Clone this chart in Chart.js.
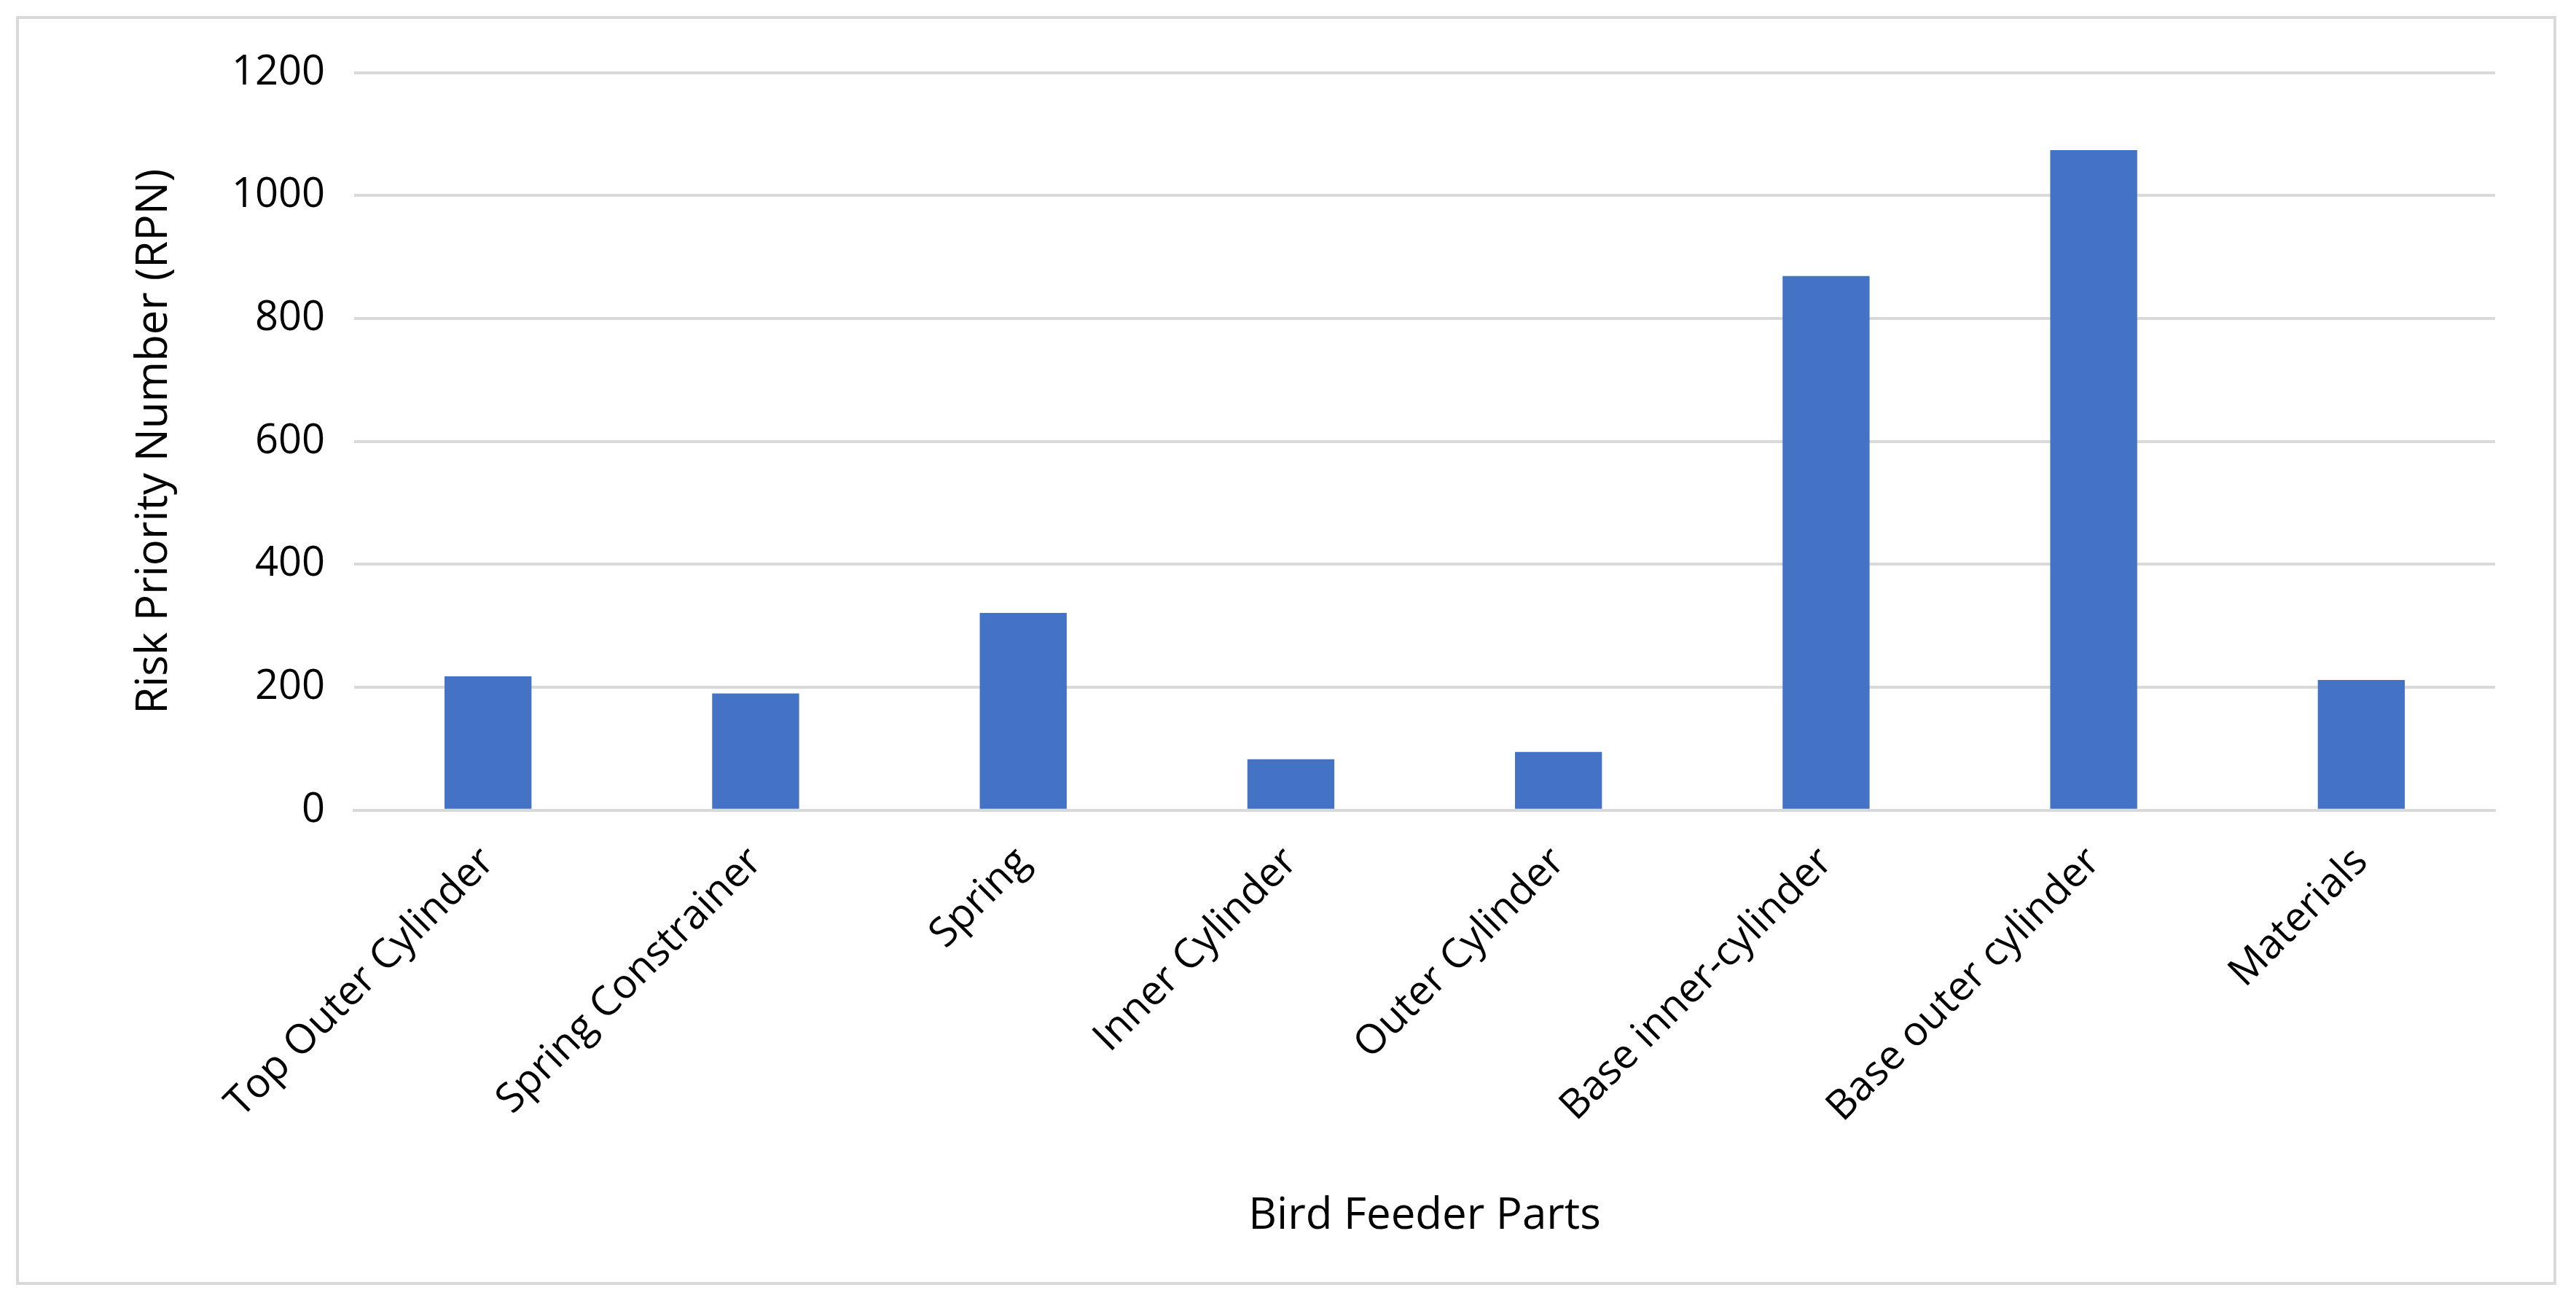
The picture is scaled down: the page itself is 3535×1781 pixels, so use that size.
<!DOCTYPE html>
<html>
<head>
<meta charset="utf-8">
<script src="https://cdn.jsdelivr.net/npm/chart.js@4"></script>
<style>
  body { margin: 0; background: #fff; }
  #wrap { position: absolute; left: 22px; top: 22px; width: 3486px; height: 1741px; border: 4px solid #d9d9d9; box-sizing: border-box; }
</style>
</head>
<body>
<div id="wrap"><canvas id="rpnChart" width="3478" height="1733"></canvas></div>
<script>
  // data
  const parts = ['Top Outer Cylinder', 'Spring Constrainer', 'Spring', 'Inner Cylinder', 'Outer Cylinder', 'Base inner-cylinder', 'Base outer cylinder', 'Materials'];
  const rpnValues = [218, 190, 321, 83, 95, 869, 1074, 212];
  const yTicks = [0, 200, 400, 600, 800, 1000, 1200];

  const font = "'Open Sans', 'Liberation Sans', sans-serif";
  const ctx = document.getElementById('rpnChart').getContext('2d');
  new Chart(ctx, {
      type: 'bar',
      data: {
          labels: parts,
          datasets: [{
              data: rpnValues,
              backgroundColor: '#4472c4',
              barPercentage: 0.65,
              categoryPercentage: 0.5
          }]
      },
      options: {
          responsive: false,
          devicePixelRatio: 1,
          animation: false,
          layout: { padding: { left: 120, right: 80, top: 70, bottom: 50 } },
          plugins: { legend: { display: false }, tooltip: { enabled: false } },
          scales: {
              y: {
                  min: 0, max: 1200,
                  afterBuildTicks: axis => { axis.ticks = yTicks.map(v => ({ value: v })); },
                  grid: { color: '#d9d9d9', lineWidth: 4, drawTicks: false },
                  border: { display: false },
                  ticks: { color: '#000', font: { family: font, size: 56 }, padding: 40, callback: v => String(v) },
                  title: { display: true, text: 'Risk Priority Number (RPN)', color: '#000', font: { family: font, size: 60 }, padding: 30 }
              },
              x: {
                  grid: { display: false },
                  border: { color: '#d9d9d9', width: 4 },
                  ticks: { color: '#000', font: { family: font, size: 56 }, minRotation: 45, maxRotation: 45, padding: 30 },
                  title: { display: true, text: 'Bird Feeder Parts', color: '#000', font: { family: font, size: 60 }, padding: { top: 50 } }
              }
          }
      }
  });
</script>
</body>
</html>
